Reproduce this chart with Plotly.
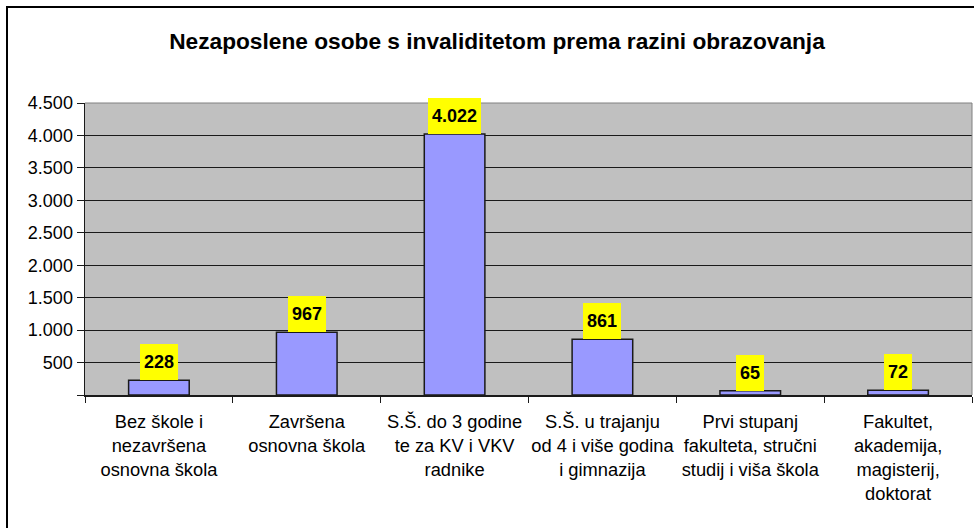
import plotly.graph_objects as go

categories = [
    "Bez škole i<br>nezavršena<br>osnovna škola",
    "Završena<br>osnovna škola",
    "S.Š. do 3 godine<br>te za KV i VKV<br>radnike",
    "S.Š. u trajanju<br>od 4 i više godina<br>i gimnazija",
    "Prvi stupanj<br>fakulteta, stručni<br>studij i viša škola",
    "Fakultet,<br>akademija,<br>magisterij,<br>doktorat",
]
values = [228, 967, 4022, 861, 65, 72]
ytick_vals = [0, 500, 1000, 1500, 2000, 2500, 3000, 3500, 4000, 4500]
title_text = "Nezaposlene osobe s invaliditetom prema razini obrazovanja"


def fmt(v):
    return f"{v:,}".replace(",", ".")


ytick_text = ["" if v == 0 else fmt(v) for v in ytick_vals]

FONT = "Liberation Sans, Arial, sans-serif"
W, H = 974, 528
L, R, T, B = 85, 2, 103, 133
pw, ph = W - L - R, H - T - B

fig = go.Figure()
fig.add_trace(go.Bar(
    x=categories, y=values,
    marker=dict(color="#9999FF", line=dict(color="#1a1a1a", width=1.5)),
    hoverinfo="skip",
))

for c, v in zip(categories, values):
    fig.add_annotation(
        x=c, y=v, text=f"<b>{fmt(v)}</b>", showarrow=False,
        yanchor="bottom", xanchor="center",
        bgcolor="#FFFF00", borderpad=4, borderwidth=0, height=28,
        font=dict(family=FONT, size=18, color="black"),
    )

# outer chart border
fig.add_shape(type="rect", xref="paper", yref="paper",
              x0=(7 - L) / pw, x1=(W + 3 - L) / pw,
              y0=(H - B - (H + 3)) / ph, y1=(H - B - 7) / ph,
              line=dict(color="black", width=2), fillcolor="rgba(0,0,0,0)")
# gray top/right lines of plot area
fig.add_shape(type="line", xref="paper", yref="paper", x0=0, x1=1, y0=1, y1=1,
              line=dict(color="#808080", width=1))
fig.add_shape(type="line", xref="paper", yref="paper", x0=1, x1=1, y0=0, y1=1,
              line=dict(color="#808080", width=1))

fig.update_layout(
    width=W, height=H,
    margin=dict(l=L, r=R, t=T, b=B),
    paper_bgcolor="white", plot_bgcolor="#C0C0C0",
    bargap=0.59,
    showlegend=False,
    title=dict(text=f"<b>{title_text}</b>", x=497 / W, xanchor="center",
               y=1 - 41 / H, yanchor="middle", yref="container",
               font=dict(family=FONT, size=22.7, color="black")),
    font=dict(family=FONT, size=18, color="black"),
)
fig.update_yaxes(
    range=[0, 4500], tickvals=ytick_vals, ticktext=ytick_text,
    showgrid=True, gridcolor="#1a1a1a", gridwidth=1,
    showline=True, linecolor="#1a1a1a", linewidth=1.5,
    ticks="outside", ticklen=7, tickcolor="#1a1a1a",
    zeroline=False, fixedrange=True,
    tickfont=dict(family=FONT, size=18, color="black"),
)
fig.update_xaxes(
    tickson="boundaries", ticks="outside", ticklen=6, tickcolor="#1a1a1a",
    showline=True, linecolor="#1a1a1a", linewidth=1.5,
    showgrid=False, fixedrange=True, tickangle=0,
    ticklabelstandoff=10,
    tickfont=dict(family=FONT, size=18.3, color="black"),
)

fig.write_html(
    "out.html",
    config={"displayModeBar": False, "staticPlot": True},
    post_script="document.body.style.margin='0';document.body.style.padding='0';",
)
